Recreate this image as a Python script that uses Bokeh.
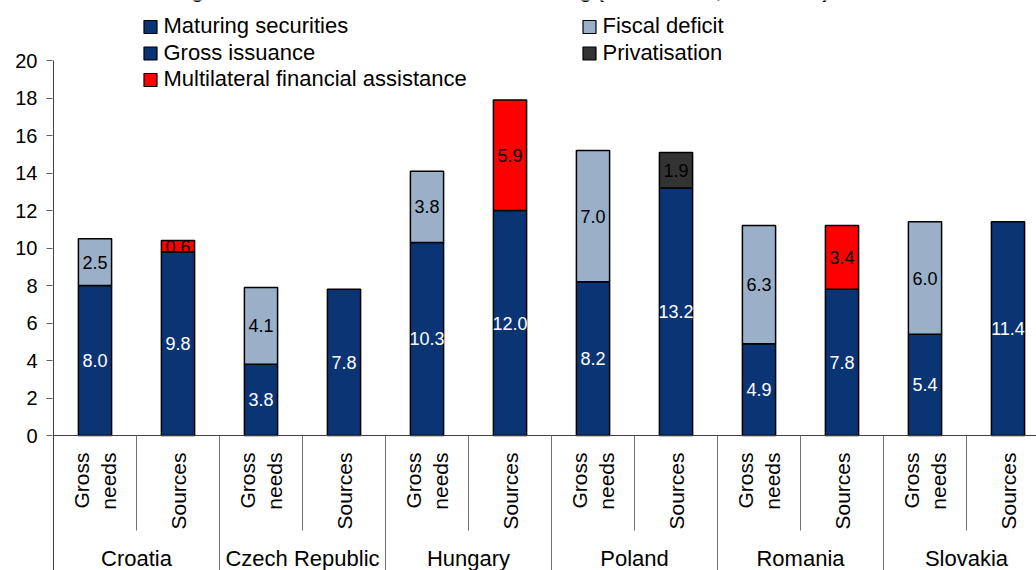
from bokeh.plotting import figure
from bokeh.models import ColumnDataSource, FixedTicker, Label, Range1d
from bokeh.embed import file_html
from bokeh.resources import INLINE
from bokeh.core.properties import value

# ---------------- data ----------------
countries = ["Croatia", "Czech Republic", "Hungary", "Poland", "Romania", "Slovakia"]
sub_labels = ["Gross needs", "Sources"]
maturing_securities = [8.0, 3.8, 10.3, 8.2, 4.9, 5.4]
fiscal_deficit = [2.5, 4.1, 3.8, 7.0, 6.3, 6.0]
gross_issuance = [9.8, 7.8, 12.0, 13.2, 7.8, 11.4]
multilateral_assistance = [0.6, 0.0, 5.9, 0.0, 3.4, 0.0]
privatisation = [0.0, 0.0, 0.0, 1.9, 0.0, 0.0]
y_ticks = [0, 2, 4, 6, 8, 10, 12, 14, 16, 18, 20]
title_text = "Gross financing needs and sources of external financing (in % of GDP, 2009-2010)"

series_names = ["Maturing securities", "Gross issuance", "Multilateral financial assistance",
                "Fiscal deficit", "Privatisation"]

# ---------------- style ----------------
DARK = "#0B3474"
LIGHT = "#9AAFC8"
RED = "#FF0000"
GREY = "#333333"
FONT = value("Liberation Sans")

W, H = 1036, 570
LEFT = 52          # frame left px
X0PX = 53          # px of x = 0
XU = 83.0          # px per category slot
Y0PX = 435         # px of y = 0
YU = 18.75         # px per unit
BASE_FIX = 8       # svg alphabetic baseline correction (px)


def px_x(px):
    return (px - X0PX) / XU


def px_y(py):
    return (Y0PX - py) / YU


x_start = px_x(LEFT)
x_end = px_x(W)
y_start = px_y(H)
y_end = px_y(0)

p = figure(width=W, height=H, output_backend="svg", toolbar_location=None,
           x_range=Range1d(x_start, x_end), y_range=Range1d(y_start, y_end),
           x_axis_location=None, y_axis_location="left",
           min_border_left=LEFT, min_border_right=0, min_border_top=0, min_border_bottom=0)
p.outline_line_color = None
p.grid.visible = False
p.background_fill_color = "white"
p.border_fill_color = "white"

ax = p.yaxis[0]
ax.ticker = FixedTicker(ticks=y_ticks)
ax.axis_line_color = None
ax.major_tick_out = 6
ax.major_tick_in = 0
ax.minor_tick_out = 0
ax.minor_tick_in = 0
ax.major_tick_line_color = "#606060"
ax.major_label_text_font = "Liberation Sans"
ax.major_label_text_font_size = "20px"
ax.major_label_text_color = "black"
ax.major_label_standoff = 9

# ---------------- bars ----------------
def segs(xs, bottoms, tops, vals):
    d = dict(x=[], bottom=[], top=[], label=[], ymid=[])
    for x, b, t, v in zip(xs, bottoms, tops, vals):
        if v > 0:
            d["x"].append(x)
            d["bottom"].append(b)
            d["top"].append(t)
            d["label"].append("%.1f" % v)
            d["ymid"].append((b + t) / 2.0)
    return ColumnDataSource(d)


n = len(countries)
x_needs = [2 * i + 0.5 for i in range(n)]
x_src = [2 * i + 1.5 for i in range(n)]
zeros = [0.0] * n
top_mat = maturing_securities
top_def = [a + b for a, b in zip(maturing_securities, fiscal_deficit)]
top_iss = gross_issuance
top_mul = [a + b for a, b in zip(gross_issuance, multilateral_assistance)]
top_pri = [a + b for a, b in zip(top_mul, privatisation)]

layers = [
    (segs(x_needs, zeros, top_mat, maturing_securities), DARK, "white"),
    (segs(x_needs, top_mat, top_def, fiscal_deficit), LIGHT, "black"),
    (segs(x_src, zeros, top_iss, gross_issuance), DARK, "white"),
    (segs(x_src, top_iss, top_mul, multilateral_assistance), RED, "black"),
    (segs(x_src, top_mul, top_pri, privatisation), GREY, "black"),
]

for src, fill, tcol in layers:
    p.vbar(x="x", bottom="bottom", top="top", width=0.4, source=src,
           fill_color=fill, line_color="black", line_width=1.5)
for src, fill, tcol in layers:
    p.text(x="x", y="ymid", text="label", source=src, text_align="center",
           text_baseline="middle", text_font=FONT, text_font_size="18px",
           text_color=tcol)

# ---------------- category axis ----------------
AX = "#404040"
p.segment(x0=[0], y0=[y_start], x1=[0], y1=[20], line_color=AX, line_width=1)
p.segment(x0=[0], y0=[0], x1=[2 * n], y1=[0], line_color=AX, line_width=1)
inner = [2 * i + 1 for i in range(n)]
outer = [2 * i for i in range(1, n)]
p.segment(x0=inner, y0=[0] * len(inner), x1=inner, y1=[px_y(530)] * len(inner),
          line_color="#707070", line_width=1)
p.segment(x0=outer, y0=[0] * len(outer), x1=outer, y1=[y_start] * len(outer),
          line_color="#707070", line_width=1)

# sub labels (rotated)
sub_x, sub_t, sub_off = [], [], []
for i in range(n):
    for j, lab in enumerate(sub_labels):
        lines = lab.split(" ")
        cx = 2 * i + j + 0.5
        if len(lines) == 1:
            offs = [0]
        else:
            offs = [-13.5, 13.5]
        for ln, o in zip(lines, offs):
            sub_x.append(cx)
            sub_t.append(ln)
            sub_off.append(o)
sub_src = ColumnDataSource(dict(x=sub_x, y=[px_y(452)] * len(sub_x), t=sub_t, o=sub_off))
p.text(x="x", y="y", text="t", x_offset="o", source=sub_src, angle=1.5707963,
       text_align="right", text_baseline="middle", text_font=FONT,
       text_font_size="21px", text_color="black")

grp_src = ColumnDataSource(dict(x=[2 * i + 1 for i in range(n)],
                                y=[px_y(566 - BASE_FIX)] * n, t=countries))
p.text(x="x", y="y", text="t", source=grp_src, text_align="center",
       text_baseline="alphabetic", text_font=FONT, text_font_size="22px", text_color="black")

# ---------------- legend (manual) ----------------
leg_colors = [DARK, DARK, RED, LIGHT, GREY]
leg_sq_px = [(150, 26.5), (150, 53), (150, 79.5), (589, 26.5), (589, 53)]
leg_src = ColumnDataSource(dict(
    x=[px_x(a) for a, b in leg_sq_px], y=[px_y(b - 1.5) for a, b in leg_sq_px],
    sy=[px_y(b) for a, b in leg_sq_px],
    tx=[px_x(a + 13) for a, b in leg_sq_px], c=leg_colors, t=series_names))
p.scatter(x="x", y="sy", source=leg_src, marker="square", size=13,
          fill_color="c", line_color="black", line_width=1.2)
p.text(x="tx", y="y", text="t", source=leg_src, text_align="left",
       text_baseline="middle", text_font=FONT, text_font_size="22px", text_color="black")

# ---------------- title (cut at the top, as in the reference) ----------------
p.add_layout(Label(x=px_x(51), y=px_y(-2 - BASE_FIX), text=title_text, text_font="Liberation Sans",
                   text_font_style="bold", text_font_size="20px", text_align="left",
                   text_baseline="alphabetic", text_color="black"))

open("out.html", "w").write(file_html(p, INLINE))
